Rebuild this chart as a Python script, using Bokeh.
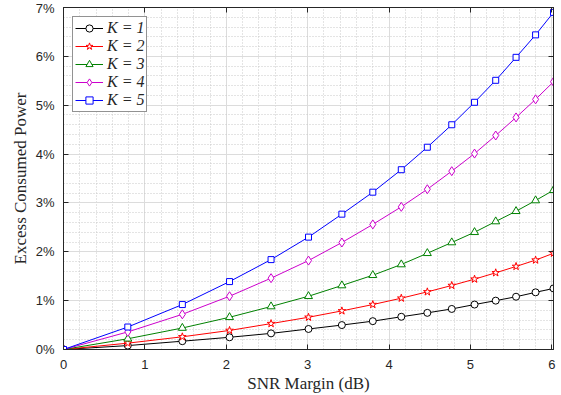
from bokeh.plotting import figure
from bokeh.models import (Range1d, SingleIntervalTicker, LinearAxis, Legend, LegendItem,
                          CustomJSTickFormatter)
from bokeh.embed import file_html
from bokeh.resources import INLINE

# ---- data ----
snr_db = [0, 0.79, 1.46, 2.04, 2.55, 3.01, 3.42, 3.80, 4.15, 4.47, 4.77, 5.05, 5.31, 5.56, 5.80, 6.02]
k1 = [0, 0.08, 0.17, 0.25, 0.33, 0.42, 0.50, 0.58, 0.67, 0.75, 0.83, 0.92, 1.00, 1.08, 1.17, 1.25]
k2 = [0, 0.13, 0.26, 0.39, 0.53, 0.66, 0.79, 0.92, 1.05, 1.18, 1.31, 1.44, 1.57, 1.70, 1.83, 1.97]
k3 = [0, 0.22, 0.44, 0.66, 0.88, 1.09, 1.31, 1.52, 1.74, 1.97, 2.19, 2.40, 2.62, 2.83, 3.05, 3.26]
k4 = [0, 0.36, 0.72, 1.09, 1.46, 1.82, 2.19, 2.56, 2.92, 3.28, 3.65, 4.01, 4.38, 4.75, 5.12, 5.48]
k5 = [0, 0.46, 0.92, 1.39, 1.84, 2.30, 2.77, 3.22, 3.68, 4.14, 4.60, 5.06, 5.51, 5.98, 6.44, 6.90]
series_labels = ["K = 1", "K = 2", "K = 3", "K = 4", "K = 5"]
x_ticks = [0, 1, 2, 3, 4, 5, 6]
y_ticks = [0, 1, 2, 3, 4, 5, 6, 7]
y_tick_labels = ["0%", "1%", "2%", "3%", "4%", "5%", "6%", "7%"]

colors = ["#000000", "#ff0000", "#008000", "#cc00cc", "#0000ff"]
markers = ["circle", "star", "triangle", "diamond", "square"]
sizes = [7, 8, 8, 9, 6]

AX = "#262626"
p = figure(width=561, height=395, x_range=Range1d(0, 6.02), y_range=Range1d(0, 7),
           output_backend="svg", toolbar_location=None,
           min_border_left=63, min_border_right=8, min_border_top=7, min_border_bottom=46)
p.background_fill_color = "white"
p.border_fill_color = "white"
p.outline_line_color = AX
p.outline_line_width = 1

p.xaxis.ticker = SingleIntervalTicker(interval=1, num_minor_ticks=5)
p.yaxis.ticker = SingleIntervalTicker(interval=1, num_minor_ticks=5)
p.yaxis.major_label_overrides = {t: l for t, l in zip(y_ticks, y_tick_labels)}

for ax in (p.xaxis[0], p.yaxis[0]):
    ax.axis_line_color = AX
    ax.major_tick_line_color = AX
    ax.major_tick_in = 5
    ax.major_tick_out = 0
    ax.minor_tick_line_color = None
    ax.major_label_text_font = "Liberation Sans"
    ax.major_label_text_font_size = "13px"
    ax.major_label_text_color = AX
    ax.axis_label_text_font = "Liberation Serif"
    ax.axis_label_text_font_size = "17px"
    ax.axis_label_text_font_style = "normal"
    ax.axis_label_text_color = AX

p.xaxis.axis_label = "SNR Margin (dB)"
p.yaxis.axis_label = "Excess Consumed Power"
p.xaxis.major_label_standoff = 6
p.yaxis.major_label_standoff = 5
p.xaxis.axis_label_standoff = 2
p.yaxis.axis_label_standoff = 3

# mirrored axes (ticks only, no labels)
blank = CustomJSTickFormatter(code="return '';")
for loc in ("above", "right"):
    ax = LinearAxis(ticker=SingleIntervalTicker(interval=1), formatter=blank,
                    major_tick_in=5, major_tick_out=0, minor_tick_line_color=None,
                    axis_line_color=AX, major_tick_line_color=AX, major_label_standoff=0)
    p.add_layout(ax, loc)

p.xgrid.grid_line_color = "#dcdcdc"
p.ygrid.grid_line_color = "#dcdcdc"
p.xgrid.minor_grid_line_color = "#c8c8c8"
p.ygrid.minor_grid_line_color = "#c8c8c8"
p.xgrid.minor_grid_line_dash = "1 2"
p.ygrid.minor_grid_line_dash = "1 2"

items = []
for ys, c, m, s, lab in zip([k1, k2, k3, k4, k5], colors, markers, sizes, series_labels):
    r1 = p.line(snr_db, ys, line_color=c, line_width=1)
    r2 = p.scatter(snr_db, ys, marker=m, size=s, line_color=c, fill_color="white", line_width=1)
    items.append(LegendItem(label=lab, renderers=[r1, r2]))

legend = Legend(items=items, location="top_left", margin=9, padding=2, spacing=0,
                label_height=18, glyph_height=18, glyph_width=28, label_standoff=4,
                label_text_font="Liberation Serif", label_text_font_size="16px",
                label_text_font_style="italic", label_text_color=AX,
                border_line_color=AX, border_line_width=1, background_fill_color="white",
                background_fill_alpha=1)
p.add_layout(legend)

open("out.html", "w").write(file_html(p, INLINE))
